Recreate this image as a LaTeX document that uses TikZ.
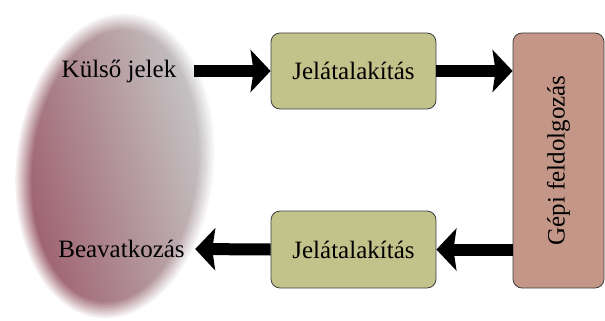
\documentclass[tikz,border=0pt]{standalone}
\usepackage{fontspec}
\setmainfont{Liberation Serif}
\usetikzlibrary{arrows.meta,positioning}
\definecolor{jelzold}{RGB}{194,194,139}
\definecolor{gepszin}{RGB}{195,150,135}
\definecolor{foltvoros}{RGB}{158,96,110}
\definecolor{foltkozep}{RGB}{158,140,144}
\definecolor{foltszurke}{RGB}{198,198,198}
\tikzset{
    doboz/.style={draw=black!75, line width=0.8pt, rounded corners=9pt, font=\rmfamily\fontsize{25}{30}\selectfont},
    felirat/.style={font=\rmfamily\fontsize{25}{30}\selectfont},
    nyil/.style={line width=12pt, -{Stealth[length=20pt,width=42pt,inset=3pt]}},
    folt/.style={left color=foltvoros!#1!white, middle color=foltkozep!#1!white, right color=foltszurke!#1!white, shading angle=105},
  }
\begin{document}
\begin{tikzpicture}[x=1pt,y=-1pt]
	\useasboundingbox (0,0) rectangle (605,321);
	%FOLT (elmosott szel)
	\foreach \i in {0,...,11}{
	  \pgfmathtruncatemacro{\p}{min(100,9+8.5*\i)}
	  \shade[folt=\p, rotate around={-6:(115,166)}] (115,166) ellipse ({99-1.5*\i} and {153-1.5*\i});
	}

	%DOBOZOK
	\node[doboz, fill=jelzold, minimum width=165pt, minimum height=76pt] (jel1) at (353.5,71) {Jelátalakítás};
	\node[doboz, fill=jelzold, minimum width=165pt, minimum height=77pt] (jel2) at (353.5,249.5) {Jelátalakítás};
	\node[doboz, fill=gepszin, minimum width=255pt, minimum height=91pt, rotate=90] (gep) at (558.5,160.5) {Gépi feldolgozás};

	%FELIRATOK
	\node[felirat] (kulso) at (119,71) {Külső jelek};
	\node[felirat] (beav) at (121.5,249) {Beavatkozás};

	%NYILAK
	\draw[nyil, shorten <=14pt] (kulso.east) -- (jel1.west);
	\draw[nyil] (jel1.east) -- (jel1.east -| gep.north);
	\draw[nyil] (jel2.east -| gep.north) -- (jel2.east);
	\draw[nyil, shorten >=7pt] (jel2.west) -- (beav.east);
\end{tikzpicture}
\end{document}
